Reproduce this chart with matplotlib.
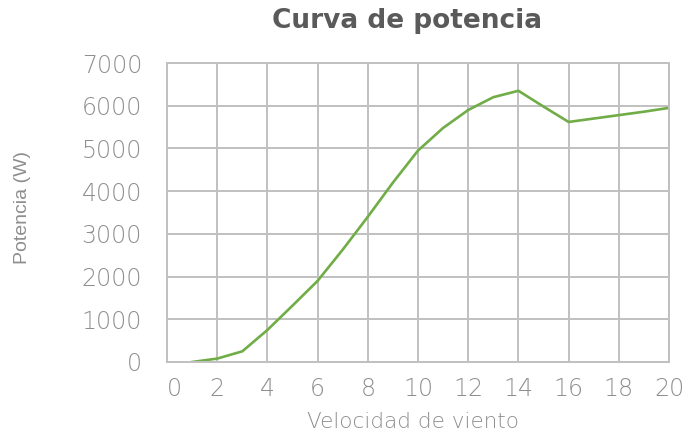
# Power curve of a small wind turbine: output power against wind speed.
import matplotlib
matplotlib.use("Agg")
import matplotlib.pyplot as plt

wind_speed = [1, 2, 3, 4, 5, 6, 7, 8, 9, 10, 11, 12, 13, 14, 15, 16, 17, 18, 19, 20]
power_w = [0, 80, 250, 750, 1320, 1900, 2630, 3400, 4200, 4950, 5480, 5900,
           6200, 6350, 5980, 5620, 5700, 5780, 5860, 5950]
x_ticks = [0, 2, 4, 6, 8, 10, 12, 14, 16, 18, 20]
y_ticks = [0, 1000, 2000, 3000, 4000, 5000, 6000, 7000]

GRID = "#c0c0c0"
TEXT = "#8e8e8e"
plt.rcParams["font.family"] = ["DejaVu Sans"]

fig = plt.figure(figsize=(6.89, 4.34), dpi=100)
ax = fig.add_axes([0.2424, 0.1659, 0.7286, 0.6889])

ax.plot(wind_speed, power_w, color="#70ad47", lw=1.9, solid_joinstyle="round")

ax.set_xlim(0, 20)
ax.set_ylim(0, 7000)
ax.set_xticks(x_ticks)
ax.set_yticks(y_ticks)
ax.grid(True, color=GRID, lw=1.4)
ax.set_axisbelow(True)
for s in ax.spines.values():
    s.set_color(GRID)
    s.set_linewidth(1.4)
ax.tick_params(length=0, colors=TEXT, labelsize=17)
ax.tick_params(axis="y", pad=18)
ax.tick_params(axis="x", pad=11)
for lbl in ax.get_xticklabels() + ax.get_yticklabels():
    lbl.set_fontweight("light")
ax.get_xticklabels()[0].set_horizontalalignment("left")

fig.text(0.600, 0.028, "Velocidad de viento", color=TEXT, fontsize=15.5,
         fontweight="light", ha="center", va="center")
fig.text(0.032, 0.521, "Potencia (W)", rotation=90, color=TEXT, fontsize=14,
         family="Liberation Sans", ha="center", va="center")
fig.text(0.591, 0.952, "Curva de potencia", color="#5a5a5a", fontsize=19,
         fontweight="bold", ha="center", va="center")

fig.savefig("out.png", dpi=100)
